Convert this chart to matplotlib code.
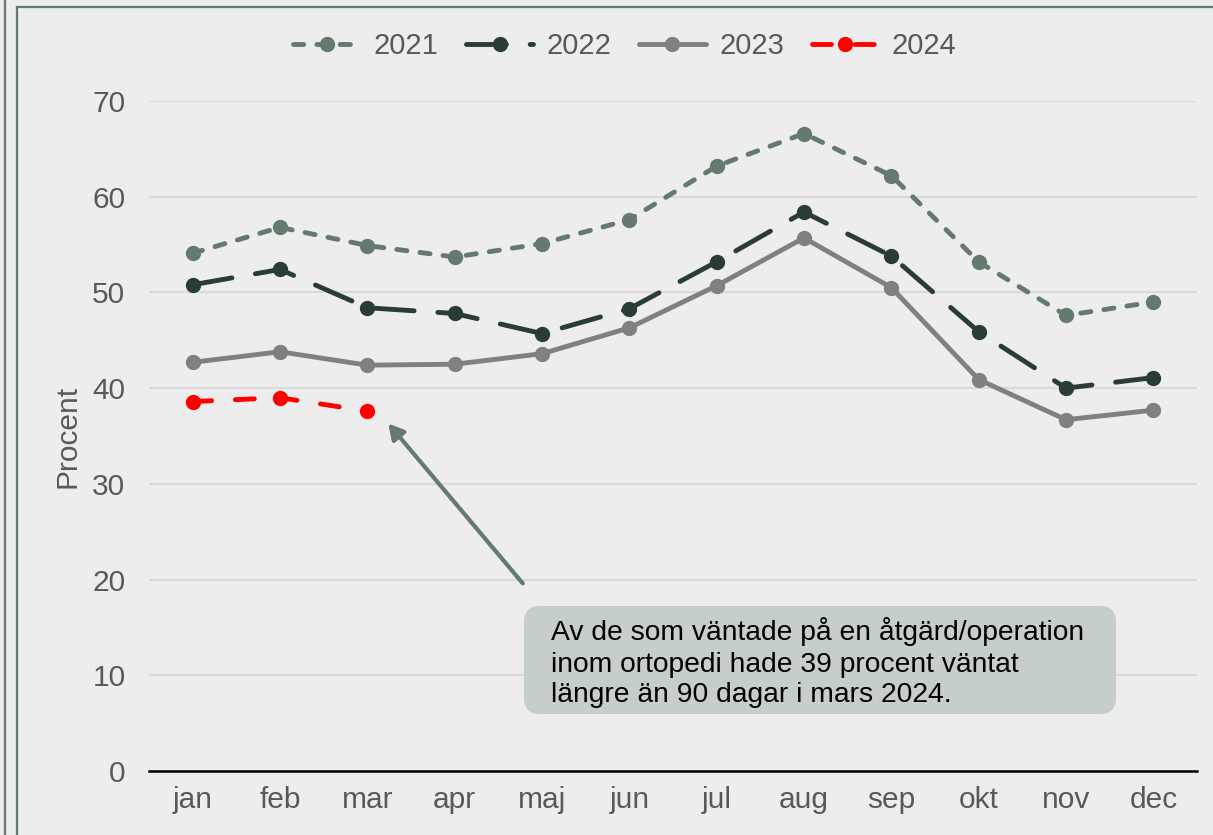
import matplotlib
matplotlib.use("Agg")
import matplotlib.pyplot as plt
import matplotlib.transforms as mtransforms
from matplotlib.lines import Line2D
from matplotlib.patches import FancyBboxPatch

plt.rcParams["font.family"] = ["Liberation Sans", "DejaVu Sans"]

months = ["jan", "feb", "mar", "apr", "maj", "jun", "jul", "aug", "sep", "okt", "nov", "dec"]
y2021 = [54.1, 56.8, 54.9, 53.7, 55.1, 57.6, 63.2, 66.6, 62.2, 53.2, 47.6, 49.0]
y2022 = [50.8, 52.4, 48.4, 47.8, 45.7, 48.3, 53.2, 58.4, 53.8, 45.9, 40.0, 41.1]
y2023 = [42.7, 43.8, 42.4, 42.5, 43.6, 46.3, 50.7, 55.7, 50.5, 40.9, 36.7, 37.7]
y2024 = [38.6, 39.0, 37.6]
yticks = [0, 10, 20, 30, 40, 50, 60, 70]
note = ("Av de som väntade på en åtgärd/operation\n"
        "inom ortopedi hade 39 procent väntat\n"
        "längre än 90 dagar i mars 2024.")

BG = "#ededed"
C21, C22, C23, C24 = "#647a6e", "#2a3d35", "#808080", "#ff0000"
TXT = "#595959"

W, H = 1213, 835
fig = plt.figure(figsize=(W / 100, H / 100), dpi=100, facecolor=BG)
ax = fig.add_axes([149 / W, 64 / H, 1048 / W, 670 / H])
ax.set_facecolor(BG)

x = list(range(len(months)))
common = dict(lw=3.5, marker="o", ms=10, dash_capstyle="round", solid_capstyle="round")
ax.plot(x, y2021, color=C21, dashes=(2.1, 2.7), label="2021", **common)
ax.plot(x, y2022, color=C22, dashes=(8.2, 4.9), label="2022", **common)
ax.plot(x, y2023, color=C23, label="2023", **common)
ax.plot(x[:len(y2024)], y2024, color=C24, dashes=(3.9, 4.9), label="2024", **common)

ax.set_xlim(-0.5, len(months) - 0.5)
ax.set_ylim(0, 70)
ax.set_yticks(yticks)
ax.set_xticks(x)
ax.set_xticklabels(months)
ax.grid(axis="y", color="#d9d9d9", lw=1.5)
ax.set_axisbelow(True)
for s in ["top", "right", "left"]:
    ax.spines[s].set_visible(False)
ax.spines["bottom"].set_color("black")
ax.spines["bottom"].set_linewidth(1.8)
ax.tick_params(axis="both", length=0, labelsize=21.5, colors=TXT)
ax.tick_params(axis="y", pad=17)
ax.tick_params(axis="x", pad=11)
ax.set_ylabel("Procent", fontsize=21.5, color=TXT, labelpad=8)

leg = ax.legend(loc="center", bbox_to_anchor=(625 / W, 1 - 46 / H),
                bbox_transform=fig.transFigure, ncol=4, frameon=False,
                fontsize=21, handlelength=2.3, handletextpad=0.45,
                columnspacing=0.95, labelcolor=TXT)

# annotation box and arrow
ident = mtransforms.IdentityTransform()
box = FancyBboxPatch((524, H - 714), 592, 108,
                     boxstyle="round,pad=0,rounding_size=16",
                     fc="#c5cec8", ec="none", transform=ident, zorder=5)
fig.add_artist(box)
fig.text(551 / W, 1 - 663 / H, note, fontsize=20.3, color="black",
         va="center", ha="left", linespacing=1.25, zorder=6)
ax.annotate("", xy=(2.24, y2024[2] - 1.3), xytext=(3.78, 19.6),
            arrowprops=dict(arrowstyle="-|>,head_length=0.9,head_width=0.5",
                            color=C21, lw=3, shrinkA=0, shrinkB=0))

# frame lines from the surrounding layout
for ln in [Line2D([4.5, 4.5], [0, H]),
           Line2D([17, 17], [0, H - 7]),
           Line2D([17, W], [H - 7, H - 7])]:
    ln.set_transform(ident)
    ln.set_color(C21)
    ln.set_linewidth(1.6)
    fig.add_artist(ln)

fig.savefig("out.png", dpi=100, facecolor=BG)
